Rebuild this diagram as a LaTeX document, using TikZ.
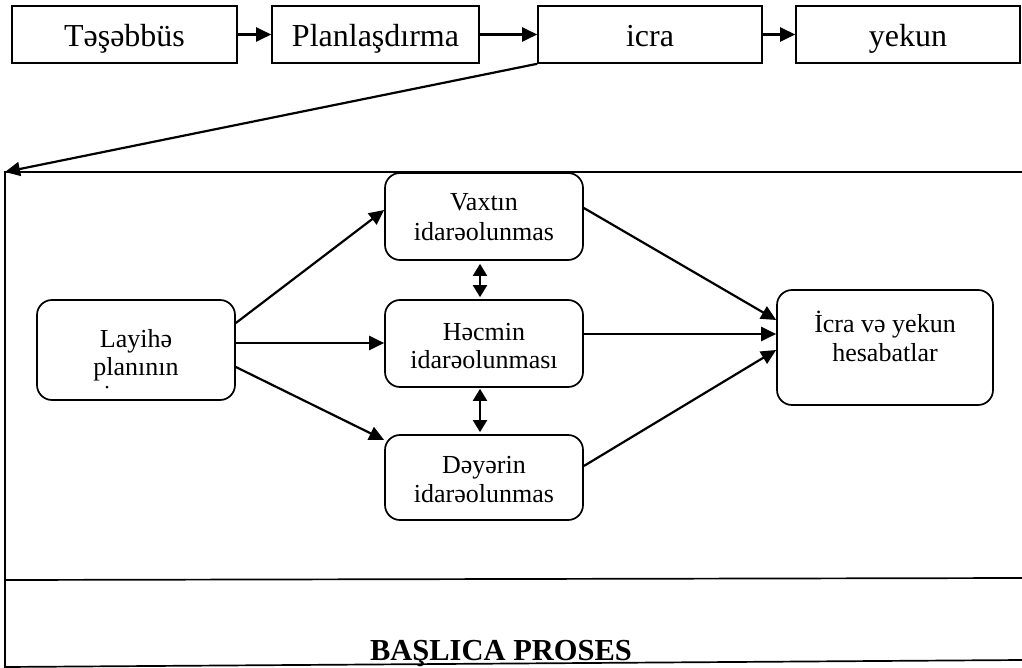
\documentclass[tikz,border=0pt]{standalone}
\usepackage{fontspec}
\setmainfont{Liberation Serif}
\usetikzlibrary{arrows.meta}
\begin{document}
\begin{tikzpicture}[x=1pt,y=-1pt,
  topbox/.style={draw, line width=1.6pt, minimum height=57pt, inner sep=0pt,
    font=\fontsize{32}{38}\selectfont, text height=26pt, text depth=2pt},
  rbox/.style={draw, line width=1.7pt, rounded corners=15pt, inner sep=0pt},
  ln/.style={anchor=base, inner sep=0pt, font=\fontsize{26}{29}\selectfont},
  arr/.style={line width=2.2pt, -{Triangle[length=15pt,width=14pt]}},
  darr/.style={line width=2.2pt, {Triangle[length=12pt,width=14pt]}-{Triangle[length=12pt,width=14pt]}},
  framel/.style={line width=1.7pt}]
\useasboundingbox (0,0) rectangle (1022,668);

% top process boxes
\node[topbox, minimum width=225pt] (t1) at (124.5,34.5) {Təşəbbüs};
\node[topbox, minimum width=207pt] (t2) at (375.5,34.5) {Planlaşdırma};
\node[topbox, minimum width=224pt] (t3) at (650,34.5) {icra};
\node[topbox, minimum width=224pt] (t4) at (908,34.5) {yekun};
\draw[arr] (t1.east) -- (t2.west);
\draw[arr] (t2.east) -- (t3.west);
\draw[arr] (t3.east) -- (t4.west);

% frame
\coordinate (fTL) at (5,172);
\coordinate (fTR) at (1022,172);
\coordinate (fBL) at (5,668);
\coordinate (mL) at (5,580);
\coordinate (mR) at (1022,578);
\coordinate (bL) at (5,667);
\coordinate (bR) at (1022,660);
\draw[framel] (fTR) -- (fTL) -- (fBL);
\draw[framel] (mL) -- (mR);
\draw[framel] (bL) -- (bR);
\draw[arr] (t3.south west) -- (fTL);

% rounded boxes
\node[rbox, minimum width=198pt, minimum height=100pt] (L) at (136,350) {};
\node[rbox, minimum width=198pt, minimum height=87pt] (V) at (484,216.5) {};
\node[rbox, minimum width=198pt, minimum height=87pt] (H) at (484,343.5) {};
\node[rbox, minimum width=198pt, minimum height=85pt] (D) at (484,477.5) {};
\node[rbox, minimum width=216pt, minimum height=115pt] (I) at (885,347.5) {};

% texts
\node[ln] (L1) at (136,347) {Layihə};
\node[ln] (L2) at (136,375) {planının};
\node[circle, fill, inner sep=0pt, minimum size=3pt] (L3) at (107,387) {};
\node[ln] (V1) at (484,211) {Vaxtın};
\node[ln] (V2) at (484,241) {idarəolunmas};
\node[ln] (H1) at (484,340) {Həcmin};
\node[ln] (H2) at (484,368) {idarəolunması};
\node[ln] (D1) at (484,473) {Dəyərin};
\node[ln] (D2) at (484,502) {idarəolunmas};
\node[ln] (I1) at (885,332) {İcra və yekun};
\node[ln] (I2) at (885,361) {hesabatlar};

% connectors
\draw[arr] ([yshift=27pt]L.east) -- ([yshift=6.5pt]V.west);
\draw[arr] ([yshift=7pt]L.east) -- ([yshift=7pt]L.east -| H.west);
\draw[arr] ([yshift=-17pt]L.east) -- ([yshift=37.5pt]D.west);
\draw[arr] ([yshift=8.5pt]V.east) -- ([yshift=27.5pt]I.west);
\draw[arr] ([yshift=9.5pt]H.east) -- ([yshift=9.5pt]H.east -| I.west);
\draw[arr] ([yshift=11.5pt]D.east) -- ([yshift=-2.5pt]I.west);
\draw[darr] ([xshift=-4pt,yshift=-3pt]V.south) -- ([xshift=-4pt,yshift=2pt]H.north);
\draw[darr] ([xshift=-4pt,yshift=-1pt]H.south) -- ([xshift=-4pt,yshift=2pt]D.north);

% bottom label
\node[inner sep=0pt, anchor=base, font=\bfseries\fontsize{30.5}{34}\selectfont] (bp) at (501,660) {BAŞLICA PROSES};
\end{tikzpicture}
\end{document}
